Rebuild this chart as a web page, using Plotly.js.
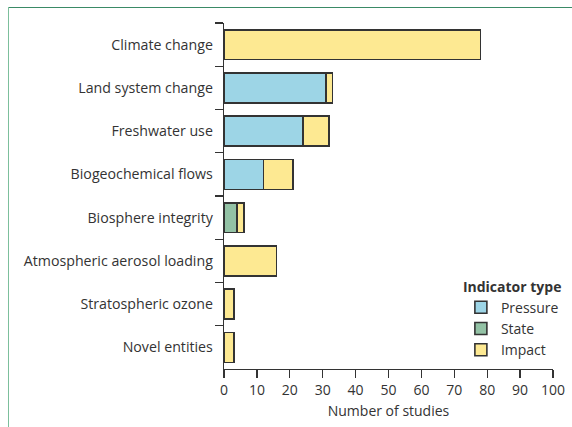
<!DOCTYPE html>
<html>
<head>
<meta charset="utf-8">
<script src="https://cdn.plot.ly/plotly-3.0.1.min.js"></script>
<style>
  html, body { margin: 0; padding: 0; background: #fff; }
  #wrap { position: relative; width: 572px; height: 427px; overflow: hidden; }
  #chart { position: absolute; left: 0; top: 0; width: 572px; height: 427px; }
  #frameTop { position: absolute; left: 8px; top: 7px; width: 564px; height: 1px; background: #3a8a66; }
  #frameLeft { position: absolute; left: 8px; top: 7px; width: 1px; height: 420px; background: #7cbf9c; }
</style>
</head>
<body>
<div id="wrap">
  <div id="chart"></div>
  <div id="frameTop"></div>
  <div id="frameLeft"></div>
</div>
<script>
const categories = [
  "Climate change",
  "Land system change",
  "Freshwater use",
  "Biogeochemical flows",
  "Biosphere integrity",
  "Atmospheric aerosol loading",
  "Stratospheric ozone",
  "Novel entities"
];
const pressure = [0, 31, 24, 12, 0, 0, 0, 0];
const state    = [0, 0, 0, 0, 4, 0, 0, 0];
const impact   = [78, 2, 8, 9, 2, 16, 3, 3];
const xTicks = [0, 10, 20, 30, 40, 50, 60, 70, 80, 90, 100];

const lineStyle = { color: "#333333", width: 1.6 };
const font = "'Open Sans', 'DejaVu Sans', sans-serif";

const traces = [
  { name: "Pressure", y: categories, x: pressure, type: "bar", orientation: "h",
    marker: { color: "#9dd5e6", line: lineStyle } },
  { name: "State", y: categories, x: state, type: "bar", orientation: "h",
    marker: { color: "#93c2a5", line: lineStyle } },
  { name: "Impact", y: categories, x: impact, type: "bar", orientation: "h",
    marker: { color: "#fde992", line: lineStyle } }
];

const layout = {
  width: 572, height: 427,
  margin: { l: 224, r: 19, t: 23, b: 58, autoexpand: false },
  paper_bgcolor: "#ffffff", plot_bgcolor: "#ffffff",
  barmode: "stack",
  bargap: 0.31,
  font: { family: font, size: 14, color: "#333333" },
  showlegend: true,
  legend: {
    x: 0.72, xanchor: "left", y: 0.276, yanchor: "top",
    bgcolor: "rgba(0,0,0,0)",
    traceorder: "normal",
    title: { text: "<b>Indicator type</b>", font: { family: font, size: 14, color: "#333333" } },
    font: { family: font, size: 14, color: "#333333" },
    itemwidth: 30, tracegroupgap: 0
  },
  xaxis: {
    range: [0, 100],
    tickvals: xTicks,
    ticktext: xTicks.map(String),
    ticks: "outside", ticklen: 8, tickwidth: 1.3, tickcolor: "#333333",
    showline: true, linecolor: "#333333", linewidth: 1.3,
    showgrid: false, zeroline: false,
    tickfont: { family: font, size: 14, color: "#333333" },
    title: { text: "Number of studies", font: { family: font, size: 14, color: "#333333" }, standoff: 8 }
  },
  yaxis: {
    type: "category",
    categoryorder: "array", categoryarray: categories,
    autorange: "reversed",
    ticks: "outside", tickson: "boundaries", ticklen: 8, tickwidth: 1.3, tickcolor: "#333333",
    showline: true, linecolor: "#333333", linewidth: 1.3,
    showgrid: false, zeroline: false,
    tickfont: { family: font, size: 14.2, color: "#333333" },
    ticklabelstandoff: 7
  }
};

Plotly.newPlot("chart", traces, layout, { displayModeBar: false, staticPlot: true });
</script>
</body>
</html>
